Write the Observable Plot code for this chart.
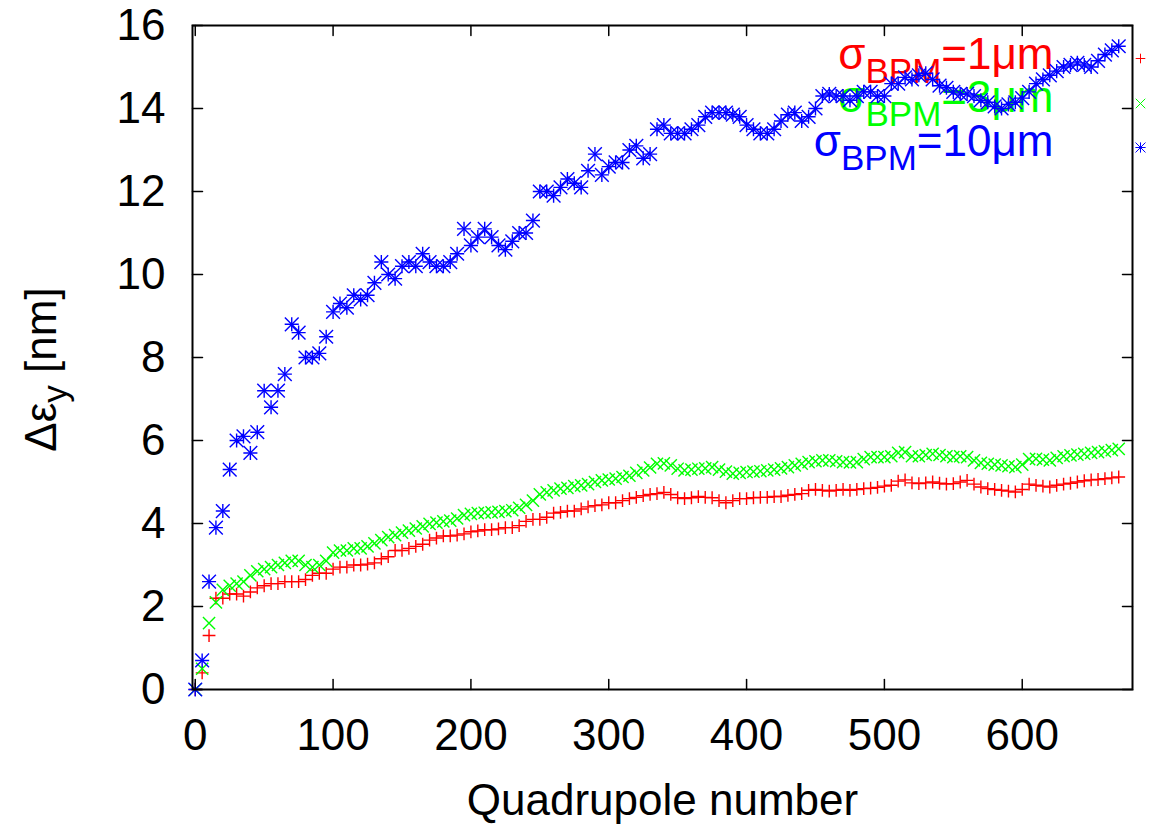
<!DOCTYPE html>
<html><head><meta charset="utf-8">
<script src="https://cdn.jsdelivr.net/npm/d3@7"></script>
<script src="https://cdn.jsdelivr.net/npm/@observablehq/plot@0.6"></script>
<style>html,body{margin:0;padding:0;background:#fff;}</style>
</head><body><div id="chart"></div>
<script>
// Quadrupole numbers (sampled)
const quads = [
  0,5,10,15,20,25,30,35,40,45, 50,55,60,65,70,75,80,85,90,95,
  100,105,110,115,120,125,130,135,140,145, 150,155,160,165,170,175,180,185,190,195,
  200,205,210,215,220,225,230,235,240,245, 250,255,260,265,270,275,280,285,290,295,
  300,305,310,315,320,325,330,335,340,345, 350,355,360,365,370,375,380,385,390,395,
  400,405,410,415,420,425,430,435,440,445, 450,455,460,465,470,475,480,485,490,495,
  500,505,510,515,520,525,530,535,540,545, 550,555,560,565,570,575,580,585,590,595,
  600,605,610,615,620,625,630,635,640,645, 650,655,660,665,670
];
// Δε_y [nm] for σ_BPM = 1 µm
const red1um = [
  0,0.4,1.3,2.2,2.2,2.3,2.3,2.25,2.35,2.45, 2.5,2.55,2.55,2.6,2.6,2.6,2.65,2.75,2.8,2.8,
  2.9,2.95,2.95,3.0,3.0,3.02,3.05,3.15,3.2,3.35, 3.35,3.4,3.45,3.5,3.6,3.65,3.7,3.7,3.72,3.75,
  3.8,3.82,3.85,3.85,3.87,3.9,3.9,3.95,4.05,4.1, 4.1,4.15,4.25,4.27,4.3,4.3,4.35,4.4,4.43,4.45,
  4.5,4.5,4.55,4.6,4.63,4.67,4.7,4.72,4.75,4.7, 4.62,4.6,4.62,4.65,4.63,4.62,4.55,4.5,4.55,4.6,
  4.6,4.62,4.63,4.63,4.65,4.65,4.68,4.7,4.72,4.8, 4.82,4.8,4.78,4.8,4.82,4.8,4.82,4.84,4.85,4.87,
  4.9,4.92,5.02,5.05,4.98,4.96,4.98,5.0,4.97,4.95, 4.96,5.0,5.04,4.95,4.88,4.84,4.82,4.8,4.78,4.76,
  4.82,4.95,4.92,4.9,4.88,4.92,4.95,4.97,5.0,5.03, 5.05,5.06,5.08,5.1,5.12
];
// σ_BPM = 3 µm
const green3um = [
  0,0.5,1.6,2.1,2.4,2.5,2.55,2.6,2.75,2.85, 2.9,2.95,3.0,3.05,3.1,3.1,3.0,2.95,3.0,3.1,
  3.3,3.35,3.35,3.4,3.4,3.45,3.52,3.6,3.67,3.72, 3.78,3.83,3.88,3.93,3.99,4.02,4.05,4.07,4.12,4.2,
  4.23,4.25,4.26,4.27,4.28,4.3,4.32,4.38,4.45,4.55, 4.7,4.75,4.8,4.84,4.86,4.9,4.92,4.95,5.0,5.04,
  5.06,5.08,5.12,5.15,5.22,5.28,5.35,5.44,5.45,5.4, 5.32,5.28,5.3,5.32,5.33,5.36,5.3,5.25,5.2,5.22,
  5.24,5.25,5.26,5.28,5.3,5.33,5.36,5.4,5.44,5.48, 5.5,5.52,5.52,5.5,5.48,5.47,5.48,5.55,5.6,5.6,
  5.6,5.62,5.7,5.72,5.62,5.62,5.65,5.68,5.65,5.62, 5.6,5.62,5.6,5.52,5.46,5.44,5.42,5.4,5.38,5.36,
  5.42,5.55,5.56,5.54,5.52,5.58,5.62,5.64,5.66,5.68, 5.7,5.72,5.74,5.77,5.8
];
// σ_BPM = 10 µm
const blue10um = [
  0.0,0.7,2.6,3.9,4.3,5.3,6.0,6.1,5.7,6.2, 7.2,6.8,7.2,7.6,8.8,8.6,8.0,8.0,8.1,8.5,
  9.1,9.3,9.2,9.5,9.4,9.5,9.8,10.3,10.0,9.9, 10.2,10.3,10.2,10.5,10.3,10.2,10.2,10.3,10.5,11.1,
  10.7,10.9,11.1,10.9,10.7,10.6,10.8,11.0,11.0,11.3, 12.0,12.0,11.9,12.1,12.3,12.2,12.1,12.5,12.9,12.4,
  12.6,12.7,12.7,13.0,13.1,12.8,12.9,13.5,13.6,13.4, 13.4,13.4,13.5,13.6,13.8,13.9,13.9,13.9,13.85,13.8,
  13.6,13.5,13.4,13.4,13.5,13.7,13.85,13.9,13.7,13.8, 14.0,14.3,14.35,14.3,14.3,14.2,14.3,14.4,14.4,14.3,
  14.3,14.6,14.6,14.75,14.7,14.8,14.85,14.7,14.55,14.5, 14.4,14.35,14.35,14.3,14.2,14.15,14.05,14.0,14.1,14.15,
  14.25,14.4,14.6,14.7,14.8,14.9,15.0,15.05,15.1,15.05, 15.0,15.15,15.3,15.4,15.5
];
const seriesLabels = ["σBPM=1μm", "σBPM=3μm", "σBPM=10μm"];
const seriesColors = ["#ff0000", "#00ff00", "#0000ff"];
const xTicks = [0, 100, 200, 300, 400, 500, 600];
const yTicks = [0, 2, 4, 6, 8, 10, 12, 14, 16];
const xTitle = "Quadrupole number";
const yTitle = "Δεy [nm]";

const rows = s => quads.map((q, i) => ({q, v: s[i]}));
const R = rows(red1um), G = rows(green3um), B = rows(blue10um);

const font = "'Liberation Sans', Arial, Helvetica, sans-serif";
const tickShape = {draw(ctx, l) { ctx.moveTo(0, 0); ctx.lineTo(0, -l); }};
const tickOpts = {length: 10, anchor: "start", shape: tickShape, stroke: "black", strokeWidth: 1.5};
const legendDy = [43, 86, 130];
const sampleDy = [33, 78, 122];

const plot = Plot.plot({
  width: 1154, height: 824,
  marginLeft: 192, marginRight: 22, marginTop: 25, marginBottom: 135,
  style: {fontFamily: font, fontSize: "44px", background: "white", color: "black", overflow: "visible"},
  x: {domain: [-2, 680]},
  y: {domain: [0, 16]},
  marks: [
    ...seriesLabels.map((t, i) => Plot.text([t], {
      frameAnchor: "top-right", text: d => d, dx: -79, dy: legendDy[i],
      fill: seriesColors[i], fontSize: 44, textAnchor: "end", lineAnchor: "bottom"
    })),
    Plot.dot(R, {x: "q", y: "v", symbol: "plus", r: 4.2, stroke: seriesColors[0], strokeWidth: 1.4}),
    Plot.dot(G, {x: "q", y: "v", symbol: "times", r: 5.6, stroke: seriesColors[1], strokeWidth: 1.4}),
    Plot.dot(B, {x: "q", y: "v", symbol: "plus", r: 4.6, stroke: seriesColors[2], strokeWidth: 1.4}),
    Plot.dot(B, {x: "q", y: "v", symbol: "times", r: 6.3, stroke: seriesColors[2], strokeWidth: 1.4}),
    // legend samples
    Plot.dot([0], {frameAnchor: "top-right", dx: 8, dy: sampleDy[0], symbol: "plus", r: 3.2, stroke: seriesColors[0], strokeWidth: 1}),
    Plot.dot([0], {frameAnchor: "top-right", dx: 8, dy: sampleDy[1], symbol: "times", r: 4.4, stroke: seriesColors[1], strokeWidth: 1}),
    Plot.dot([0], {frameAnchor: "top-right", dx: 8, dy: sampleDy[2], symbol: "plus", r: 3.4, stroke: seriesColors[2], strokeWidth: 1}),
    Plot.dot([0], {frameAnchor: "top-right", dx: 8, dy: sampleDy[2], symbol: "times", r: 4.6, stroke: seriesColors[2], strokeWidth: 1}),
    Plot.frame({stroke: "black", strokeWidth: 2}),
    Plot.vector(xTicks, {x: d => d, frameAnchor: "bottom", rotate: 0, ...tickOpts}),
    Plot.vector(xTicks, {x: d => d, frameAnchor: "top", rotate: 180, ...tickOpts}),
    Plot.vector(yTicks, {y: d => d, frameAnchor: "left", rotate: 90, ...tickOpts}),
    Plot.vector(yTicks, {y: d => d, frameAnchor: "right", rotate: -90, ...tickOpts}),
    Plot.axisX(xTicks, {tickSize: 0, tickPadding: 29, fontSize: 44, label: null}),
    Plot.axisY(yTicks, {tickSize: 0, tickPadding: 27, fontSize: 44, label: null}),
    Plot.text([xTitle], {frameAnchor: "bottom", text: d => d, dy: 125, fontSize: 44, lineAnchor: "bottom"}),
    Plot.text([yTitle], {frameAnchor: "left", text: d => d, dx: -137, dy: 12, rotate: -90, fontSize: 44, textAnchor: "middle", lineAnchor: "bottom"})
  ]
});
document.getElementById("chart").appendChild(plot);

// Enhanced-text subscripts
const NS = "http://www.w3.org/2000/svg";
function sub(el, pre, subTxt, post, subSize, shift) {
  while (el.firstChild) el.removeChild(el.firstChild);
  el.appendChild(document.createTextNode(pre));
  const s = document.createElementNS(NS, "tspan");
  s.setAttribute("font-size", subSize); s.setAttribute("dy", shift); s.textContent = subTxt;
  el.appendChild(s);
  const p = document.createElementNS(NS, "tspan");
  p.setAttribute("dy", -shift); p.textContent = post;
  el.appendChild(p);
}
plot.querySelectorAll("text").forEach(el => {
  const t = el.textContent;
  const m = t.match(/^σBPM(=.*)$/);
  if (m) sub(el, "σ", "BPM", m[1], 35, 14);
  else if (t === yTitle) sub(el, "Δε", "y", " [nm]", 35, 11);
});
</script>
</body></html>
